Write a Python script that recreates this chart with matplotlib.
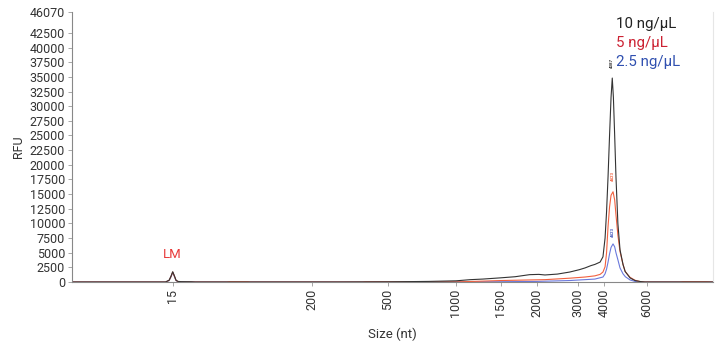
import numpy as np
import matplotlib
matplotlib.use("Agg")
import matplotlib.pyplot as plt

plt.rcParams['font.family'] = ['Roboto', 'DejaVu Sans']

# Size ladder: sizes (nt) and their relative positions along the migration axis
ladder_sizes = [1, 15, 200, 500, 1000, 1500, 2000, 3000, 4000, 6000, 10000]
ladder_pos = [0.0, 100.7, 240.0, 316.0, 384.0, 428.7, 464.7, 506.0, 532.0, 574.7, 641.0]

x_ticks = [15, 200, 500, 1000, 1500, 2000, 3000, 4000, 6000]
y_ticks = [0, 2500, 5000, 7500, 10000, 12500, 15000, 17500, 20000, 22500,
           25000, 27500, 30000, 32500, 35000, 37500, 40000, 42500, 46070]

# 10 ng/uL trace
size_10 = [1, 14.0, 14.5, 14.77, 15, 17.4, 19.4, 22, 26, 40, 45, 300, 500, 800,
           1000, 1160, 1300, 1490, 1700, 1900, 2050, 2200, 2500, 2800, 3050,
           3270, 3500, 3650, 3850, 3960, 4050, 4120, 4190, 4260, 4330, 4387,
           4440, 4500, 4560, 4650, 4750, 4890, 4990, 5220, 5450, 5690, 5920,
           7000, 10000]
rfu_10 = [0, 0, 300, 1000, 1750, 1000, 300, 100, 60, 40, 0, 0, 30, 100,
          200, 400, 500, 700, 900, 1250, 1300, 1200, 1350, 1700, 2100,
          2400, 2800, 3000, 3400, 4300, 7500, 12000, 18000, 25000, 31500, 34800,
          31500, 25000, 18000, 10000, 5500, 3000, 1800, 700, 250, 80, 0,
          0, 0]

# 5 ng/uL trace
size_5 = [1, 14.0, 14.5, 14.77, 15, 17.4, 19.4, 22, 26, 87, 90, 115, 118, 400,
          410, 1040, 1100, 1300, 1500, 1900, 2200, 2800, 3270, 3650, 3850,
          3960, 4050, 4120, 4190, 4260, 4330, 4423, 4500, 4560, 4650, 4750,
          4890, 4990, 5220, 5450, 5690, 5920, 8000, 8200, 9600, 10000]
rfu_5 = [0, 0, 280, 950, 1700, 950, 280, 80, 0, 0, 50, 50, 0, 0,
         40, 40, 60, 150, 250, 350, 400, 650, 850, 1050, 1300,
         1700, 2600, 5000, 9500, 12800, 14800, 15400, 14000, 11500, 8000, 5200,
         3000, 1800, 800, 300, 80, 0, 0, 50, 50, 0]

# 2.5 ng/uL trace
size_25 = [1, 14.0, 14.5, 14.77, 15, 17.4, 19.4, 22, 26, 400, 420, 480, 500,
           1500, 2000, 2800, 3650, 3960, 4050, 4120, 4190, 4260, 4330, 4423,
           4500, 4560, 4650, 4750, 4890, 5000, 5220, 5450, 5690, 8000, 8200,
           9600, 10000]
rfu_25 = [0, 0, 250, 900, 1650, 900, 250, 60, 0, 0, 30, 30, 0,
          50, 100, 250, 500, 850, 1400, 2200, 3400, 4800, 5900, 6500,
          6000, 5000, 3800, 2400, 1400, 900, 350, 100, 0, 0, 40,
          40, 0]

peak_10 = 4387
peak_5 = 4423
peak_25 = 4423

c_black = '#333333'
c_red = '#f2603e'
c_blue = '#6a78dc'

fig = plt.figure(figsize=(7.22, 3.41), dpi=100)
ax = fig.add_axes([72 / 722, 1 - 282 / 341, (713 - 72) / 722, 270 / 341])


def forward(x):
    return np.interp(x, ladder_sizes, ladder_pos)


def inverse(p):
    return np.interp(p, ladder_pos, ladder_sizes)


ax.set_xscale('function', functions=(forward, inverse))

ax.plot(size_25, rfu_25, color=c_blue, lw=0.8)
ax.plot(size_5, rfu_5, color=c_red, lw=0.8)
ax.plot(size_10, rfu_10, color=c_black, lw=0.8)

ax.set_xlim(1, 10000)
ax.set_ylim(0, 46070)
ax.set_xticks(x_ticks)
ax.set_xticklabels([str(t) for t in x_ticks], rotation=90)
ax.set_yticks(y_ticks)
ax.set_yticklabels([str(t) for t in y_ticks])
ax.tick_params(axis='both', labelsize=9, colors='#999999', labelcolor='#333333',
               length=3, width=0.6, pad=2)

for side in ['left', 'bottom']:
    ax.spines[side].set_color('#888888')
    ax.spines[side].set_linewidth(0.8)
ax.spines['top'].set_visible(False)
ax.spines['right'].set_color('#e6e6e6')
ax.spines['right'].set_linewidth(0.8)

ax.set_xlabel('Size (nt)', fontsize=9.5, color='#333333', labelpad=7)
ax.set_ylabel('RFU', fontsize=9, color='#333333', labelpad=3)

# Peak annotations
ax.text(15, 3500, 'LM', color='#e83a3a', fontsize=9.5, ha='center', va='bottom')
ax.text(peak_10, 37400, str(peak_10), color=c_black, fontsize=3.2, rotation=90,
        ha='center', va='center', fontweight='bold')
ax.text(peak_5, 18100, str(peak_5), color=c_red, fontsize=3.2, rotation=90,
        ha='center', va='center', fontweight='bold')
ax.text(peak_25, 8500, str(peak_25), color='#4455bb', fontsize=3.2, rotation=90,
        ha='center', va='center', fontweight='bold')

# Concentration key
ax.text(4560, 44000, '10 ng/µL', color='#222222', fontsize=10.8, ha='left', va='center')
ax.text(4560, 40800, '5 ng/µL', color='#cc2233', fontsize=10.8, ha='left', va='center')
ax.text(4560, 37600, '2.5 ng/µL', color='#3050b0', fontsize=10.8, ha='left', va='center')

fig.savefig('out.png', dpi=100)
